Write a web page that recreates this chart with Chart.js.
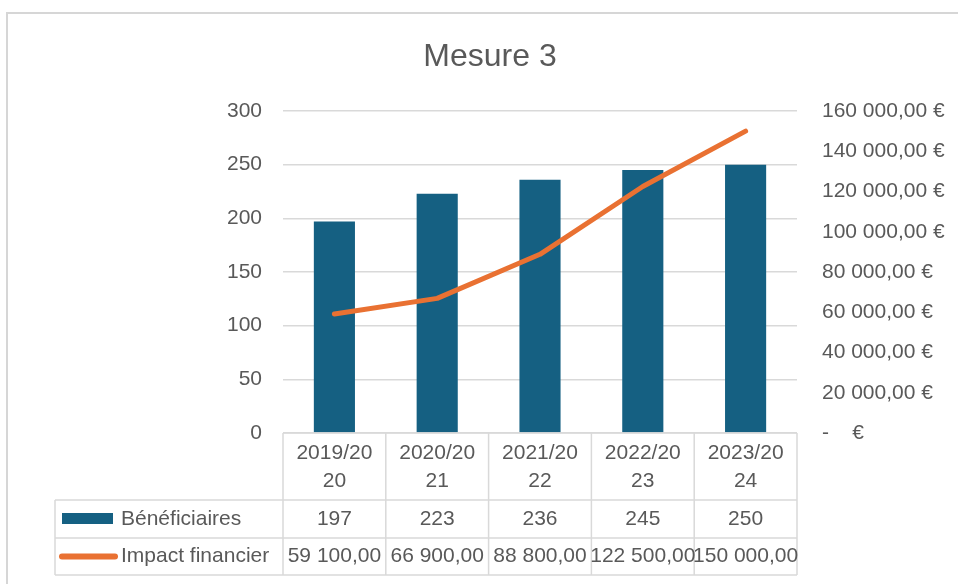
<!DOCTYPE html>
<html lang="fr">
<head>
<meta charset="utf-8">
<title>Mesure 3</title>
<script src="https://cdn.jsdelivr.net/npm/chart.js@4.4.1/dist/chart.umd.min.js"></script>
<style>
  html, body { margin: 0; padding: 0; background: #fff; }
  #wrap { width: 958px; height: 584px; }
</style>
</head>
<body>
<div id="wrap"><canvas id="chart" width="958" height="584"></canvas></div>
<script>
// data
const categories = ['2019/2020', '2020/2021', '2021/2022', '2022/2023', '2023/2024'];
const headerLines = [['2019/20', '20'], ['2020/20', '21'], ['2021/20', '22'], ['2022/20', '23'], ['2023/20', '24']];
const beneficiaires = [197, 223, 236, 245, 250];
const impactFinancier = [59100, 66900, 88800, 122500, 150000];
const leftTicks = [0, 50, 100, 150, 200, 250, 300];
const rightTicks = [0, 20000, 40000, 60000, 80000, 100000, 120000, 140000, 160000];

const BLUE = '#156082';
const ORANGE = '#E97132';
const TEXT = '#595959';
const LINE = '#D9D9D9';
const FONT = '"Liberation Sans", Arial, sans-serif';

function fmtNum(v) {
  return v.toFixed(2).replace('.', ',').replace(/\B(?=(\d{3})+(?!\d))/g, ' ');
}
function fmtEuro(v) {
  if (v === 0) return '-    €';
  return fmtNum(v) + ' €';
}

// frame, title and the data table under the plot
const tablePlugin = {
  id: 'excelTable',
  beforeDraw(chart) {
    const ctx = chart.ctx;
    ctx.save();
    ctx.fillStyle = '#fff';
    ctx.fillRect(0, 0, chart.width, chart.height);
    ctx.restore();
  },
  afterDraw(chart) {
    const ctx = chart.ctx;
    const x = chart.scales.x;
    const area = chart.chartArea;
    const colW = (area.right - area.left) / categories.length;
    const top = area.bottom;
    const r1 = top + 67, r2 = r1 + 38, r3 = r2 + 37;
    const legendLeft = 55;

    ctx.save();
    // outer frame
    ctx.strokeStyle = '#D6D6D6';
    ctx.lineWidth = 2;
    ctx.strokeRect(7, 13, chart.width + 10, chart.height + 10);

    // title
    ctx.fillStyle = TEXT;
    ctx.font = '32px ' + FONT;
    ctx.textAlign = 'center';
    ctx.textBaseline = 'middle';
    ctx.fillText('Mesure 3', 490, 57);

    // grid of the table
    ctx.strokeStyle = LINE;
    ctx.lineWidth = 1.5;
    ctx.beginPath();
    ctx.moveTo(area.left, top); ctx.lineTo(area.right, top);
    [r1, r2, r3].forEach(y => { ctx.moveTo(legendLeft, y); ctx.lineTo(area.right, y); });
    ctx.moveTo(legendLeft, r1); ctx.lineTo(legendLeft, r3);
    for (let i = 0; i <= categories.length; i++) {
      const xx = area.left + i * colW;
      ctx.moveTo(xx, top); ctx.lineTo(xx, r3);
    }
    ctx.stroke();

    // cell texts
    ctx.fillStyle = TEXT;
    ctx.font = '21px ' + FONT;
    ctx.textAlign = 'center';
    categories.forEach((c, i) => {
      const cx = x.getPixelForValue(i);
      ctx.fillText(headerLines[i][0], cx, top + 20);
      ctx.fillText(headerLines[i][1], cx, top + 48);
      ctx.fillText(String(beneficiaires[i]), cx, (r1 + r2) / 2);
      ctx.fillText(fmtNum(impactFinancier[i]), cx, (r2 + r3) / 2);
    });

    // legend keys
    ctx.fillStyle = BLUE;
    ctx.fillRect(62, 513, 51, 11);
    ctx.strokeStyle = ORANGE;
    ctx.lineWidth = 6;
    ctx.lineCap = 'round';
    ctx.beginPath();
    ctx.moveTo(62, (r2 + r3) / 2); ctx.lineTo(115, (r2 + r3) / 2);
    ctx.stroke();

    ctx.fillStyle = TEXT;
    ctx.textAlign = 'left';
    ctx.fillText('Bénéficiaires', 121, (r1 + r2) / 2);
    ctx.fillText('Impact financier', 121, (r2 + r3) / 2);
    ctx.restore();
  }
};

new Chart(document.getElementById('chart'), {
  data: {
    labels: categories,
    datasets: [
      {
        type: 'line',
        label: 'Impact financier',
        data: impactFinancier,
        yAxisID: 'y1',
        borderColor: ORANGE,
        borderWidth: 5,
        borderCapStyle: 'round',
        borderJoinStyle: 'round',
        pointRadius: 0,
        tension: 0,
        order: 0
      },
      {
        type: 'bar',
        label: 'Bénéficiaires',
        data: beneficiaires,
        yAxisID: 'y',
        backgroundColor: BLUE,
        categoryPercentage: 1,
        barPercentage: 0.4,
        order: 1
      }
    ]
  },
  options: {
    responsive: false,
    animation: false,
    layout: { padding: { top: 111, bottom: 151, left: 0, right: 0 } },
    plugins: {
      legend: { display: false },
      title: { display: false },
      tooltip: { enabled: false }
    },
    scales: {
      x: { display: false },
      y: {
        position: 'left',
        min: 0,
        max: 300,
        afterFit: s => { s.width = 283; },
        afterBuildTicks: s => { s.ticks = leftTicks.map(v => ({ value: v })); },
        grid: { color: LINE, lineWidth: 1.5, drawTicks: false },
        border: { display: false },
        ticks: { color: TEXT, font: { family: FONT, size: 21 }, padding: 21 }
      },
      y1: {
        position: 'right',
        min: 0,
        max: 160000,
        afterFit: s => { s.width = 161; },
        afterBuildTicks: s => { s.ticks = rightTicks.map(v => ({ value: v })); },
        grid: { display: false, drawTicks: false },
        border: { display: false },
        ticks: {
          color: TEXT,
          font: { family: FONT, size: 21 },
          padding: 25,
          callback: v => fmtEuro(v)
        }
      }
    }
  },
  plugins: [tablePlugin]
});
</script>
</body>
</html>
